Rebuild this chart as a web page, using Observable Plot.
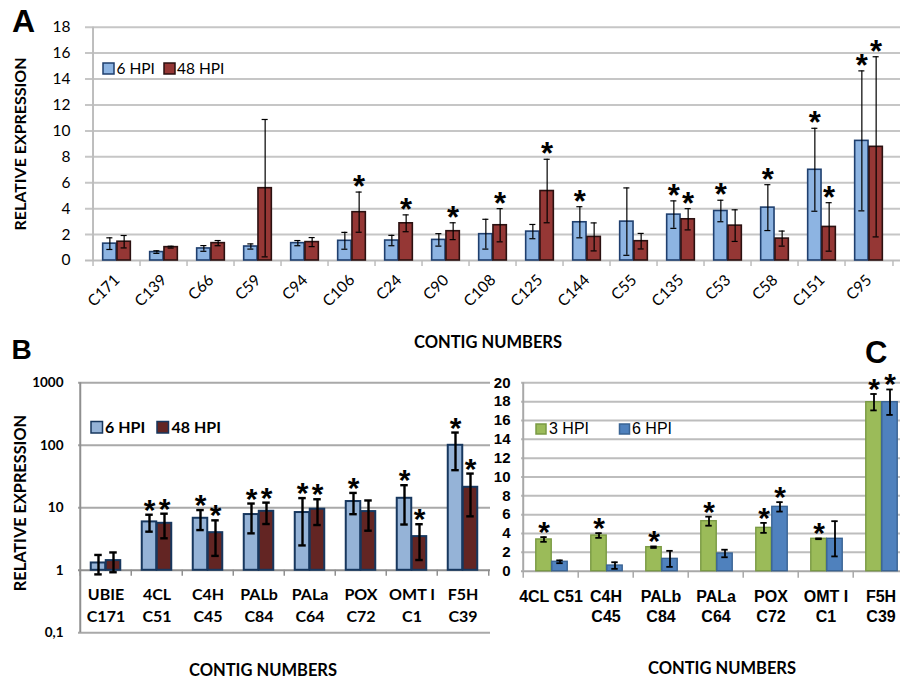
<!DOCTYPE html>
<html><head><meta charset="utf-8">
<script src="https://cdn.jsdelivr.net/npm/d3@7"></script>
<script src="https://cdn.jsdelivr.net/npm/@observablehq/plot@0.6"></script>
<style>
body{margin:0;background:#fff;}
#root{position:relative;width:900px;height:680px;overflow:hidden;background:#fff;}
#root > svg{position:absolute;}
</style></head><body><div id="root"></div>
<script>
// ---------- Panel A data ----------
const catsA = ["C171","C139","C66","C59","C94","C106","C24","C90","C108","C125","C144","C55","C135","C53","C58","C151","C95"];
const a6 =    [1.30,0.65,0.93,1.08,1.34,1.52,1.54,1.59,2.03,2.23,2.95,3.00,3.54,3.82,4.08,7.00,9.23];
const a6err = [0.45,0.10,0.22,0.20,0.20,0.65,0.40,0.48,1.15,0.55,1.20,2.60,1.06,0.83,1.77,3.20,5.40];
const a6sig = [0,0,0,0,0,0,0,0,0,0,1,0,1,1,1,1,1];
const a48 =    [1.45,1.03,1.34,5.58,1.42,3.73,2.87,2.26,2.72,5.36,1.82,1.49,3.18,2.69,1.69,2.59,8.77];
const a48err = [0.48,0.07,0.20,5.30,0.35,1.55,0.65,0.65,1.28,2.45,1.08,0.60,0.82,1.22,0.58,1.87,6.95];
const a48sig = [0,0,0,0,0,1,1,1,1,1,0,0,1,0,0,1,1];
const yTicksA = [0,2,4,6,8,10,12,14,16,18];

// ---------- Panel B data ----------
const catsB = ["UBIE\nC171","4CL\nC51","C4H\nC45","PALb\nC84","PALa\nC64","POX\nC72","OMT I\nC1","F5H\nC39"];
const b6 =    [1.31,5.95,6.8,7.8,8.4,12.6,14.2,100];
const b6err = [0.45,1.8,2.4,3.9,5.9,4.7,8.8,60];
const b6sig = [0,1,1,1,1,1,1,1];
const b48 =    [1.43,5.65,4.0,8.8,9.5,8.7,3.46,21.3];
const b48err = [0.5,2.4,2.3,3.3,4.2,4.4,2.0,14];
const b48sig = [0,1,1,1,1,0,1,1];
const yTicksB = [0.1,1,10,100,1000];
const yTickLabelsB = ["0,1","1","10","100","1000"];

// ---------- Panel C data ----------
const catsC = ["4CL C51","C4H\nC45","PALb\nC84","PALa\nC64","POX\nC72","OMT I\nC1","F5H\nC39"];
const c3 =    [3.37,3.79,2.55,5.31,4.60,3.44,17.94];
const c3err = [0.25,0.25,0.08,0.48,0.53,0.04,0.87];
const c3sig = [1,1,1,1,1,1,1];
const c6 =    [1.00,0.60,1.31,1.88,6.83,3.44,17.94];
const c6err = [0.15,0.35,0.85,0.40,0.50,1.87,1.35];
const c6sig = [0,0,0,0,1,0,1];
const yTicksC = [0,2,4,6,8,10,12,14,16,18,20];

function makePanel(o){
  const n = o.cats.length;
  const step = (o.width - o.marginLeft - o.marginRight) / n;
  const marks = [];
  marks.push(Plot.ruleY(o.grid, {stroke:o.gridColor, strokeWidth:o.gridWidth}));
  marks.push(Plot.ruleY([o.base], {stroke:o.axisColor, strokeWidth:o.gridWidth}));
  marks.push(Plot.ruleX([o.cats[0]], {dx:-step/2, stroke:o.axisColor, strokeWidth:o.axisWidth}));
  marks.push(Plot.ruleX(o.cats, {x:d=>d, y1:()=>o.base, y2:()=>o.base, dx:-step/2, insetBottom:-o.tickLen, stroke:o.axisColor, strokeWidth:1.5}));
  marks.push(Plot.ruleX([o.cats[n-1]], {x:d=>d, y1:()=>o.base, y2:()=>o.base, dx:step/2, insetBottom:-o.tickLen, stroke:o.axisColor, strokeWidth:1.5}));
  const rowsBy = o.series.map(s => o.cats.map((c,i)=>({cat:c, v:s.values[i], e:s.errs[i], sig:s.sig[i]})));
  const offs = o.series.map((s,k)=> (k - (o.series.length-1)/2) * o.barW + (o.shift||0));
  o.series.forEach((s,k)=>{
    const inL = step/2 + offs[k] - o.barW/2;
    const inR = step - inL - o.barW;
    marks.push(Plot.barY(rowsBy[k], {x:"cat", y1:()=>o.base, y2:"v", fill:s.fill, stroke:s.stroke, strokeWidth:o.barStroke, insetLeft:inL, insetRight:inR}));
  });
  o.series.forEach((s,k)=>{
    const rows = rowsBy[k];
    const cL = step/2 + offs[k] - o.capW/2;
    const cR = step - cL - o.capW;
    marks.push(Plot.ruleX(rows, {x:"cat", y1:d=>d.v-d.e, y2:d=>d.v+d.e, dx:offs[k], stroke:"#000", strokeWidth:o.errWidth}));
    marks.push(Plot.tickY(rows, {x:"cat", y:d=>d.v+d.e, insetLeft:cL, insetRight:cR, stroke:"#000", strokeWidth:o.errWidth}));
    marks.push(Plot.tickY(rows, {x:"cat", y:d=>d.v-d.e, insetLeft:cL, insetRight:cR, stroke:"#000", strokeWidth:o.errWidth}));
    marks.push(Plot.text(rows.filter(d=>d.sig), {x:"cat", y:d=>d.v+d.e, text:()=>"*", dx:offs[k], dy:o.starDy, lineAnchor:"bottom", fontSize:o.starSize, fontWeight:"bold", fontFamily:"Liberation Sans", fill:"#000"}));
  });
  if (o.labels) marks.push(Plot.text(o.cats, {x:d=>d, y:()=>o.base, text:d=>d, dy:o.labelDy, lineAnchor:"top", lineHeight:o.lineHeight, fontSize:o.labelSize, fontWeight:"bold", fontFamily:o.labelFont, fill:"#000"}));
  return Plot.plot({
    width:o.width, height:o.height,
    marginLeft:o.marginLeft, marginRight:o.marginRight, marginTop:o.marginTop, marginBottom:o.marginBottom,
    x: Object.assign({type:"band", domain:o.cats, padding:0, label:null}, o.x),
    y: Object.assign({label:null, tickSize:0}, o.y),
    style:{background:"transparent", fontFamily:o.font, fontSize:o.fontSize+"px", fontWeight:o.fontWeight, color:"#000", overflow:"visible"},
    marks
  });
}

const root = document.getElementById("root");

const pA = makePanel({
  cats:catsA, width:900, height:320, marginLeft:85, marginRight:0, marginTop:26.7, marginBottom:60,
  base:0, grid:yTicksA.filter(d=>d>0), gridColor:"#c6c6c6", gridWidth:2, axisColor:"#bdbdbd", axisWidth:2, tickLen:6,
  barW:14.3, barStroke:1.6, capW:7, errWidth:1.2, starSize:31, starDy:5,
  series:[
    {values:a6, errs:a6err, sig:a6sig, fill:"#8db4e2", stroke:"#1f3f6e"},
    {values:a48, errs:a48err, sig:a48sig, fill:"#953735", stroke:"#2b1111"}
  ],
  x:{tickRotate:-45, tickSize:0, tickPadding:17},
  y:{domain:[0,18], ticks:yTicksA, tickPadding:15},
  font:"Lato", fontSize:15.5, fontWeight:"normal"
});
pA.style.left="0px"; pA.style.top="0px";
root.appendChild(pA);

const pB = makePanel({
  cats:catsB, width:490, height:360, marginLeft:78, marginRight:0, marginTop:62.3, marginBottom:47.7,
  base:1, grid:[0.1,10,100,1000], gridColor:"#a9a9a9", gridWidth:2, axisColor:"#8f8f8f", axisWidth:2, tickLen:6,
  barW:15, barStroke:2, capW:8, errWidth:2.4, starSize:30, starDy:5,
  series:[
    {values:b6, errs:b6err, sig:b6sig, fill:"#95b3d7", stroke:"#17375e"},
    {values:b48, errs:b48err, sig:b48sig, fill:"#632523", stroke:"#17375e"}
  ],
  x:{axis:null},
  y:{type:"log", domain:[0.1,1000], ticks:yTicksB, tickFormat:d=>yTickLabelsB[yTicksB.indexOf(d)], tickPadding:15},
  labels:true, labelDy:14, lineHeight:1.375, labelSize:16, labelFont:"Lato",
  font:"Lato", fontSize:13.5, fontWeight:"bold"
});
pB.style.left="0px"; pB.style.top="320px";
root.appendChild(pB);

const pC = makePanel({
  cats:catsC, width:420, height:360, marginLeft:31, marginRight:0, marginTop:62.3, marginBottom:109.3,
  base:0, grid:yTicksC.filter(d=>d>0), gridColor:"#bdbdbd", gridWidth:2, axisColor:"#a8a8a8", axisWidth:2, tickLen:7,
  barW:16, barStroke:1.4, capW:7, errWidth:1.8, starSize:30, starDy:5, shift:1,
  series:[
    {values:c3, errs:c3err, sig:c3sig, fill:"#9bbb59", stroke:"#7a9a44"},
    {values:c6, errs:c6err, sig:c6sig, fill:"#4f81bd", stroke:"#3a6494"}
  ],
  x:{axis:null},
  y:{domain:[0,20], ticks:yTicksC, tickPadding:11},
  labels:true, labelDy:17, lineHeight:1.25, labelSize:16, labelFont:"Liberation Sans",
  font:"Liberation Sans", fontSize:15, fontWeight:"bold"
});
pC.style.left="490px"; pC.style.top="320px";
root.appendChild(pC);

// ---------- overlay text: panel letters, titles, legends ----------
const ov = d3.select(root).append("svg").attr("width",900).attr("height",680)
  .style("left","0px").style("top","0px").style("pointer-events","none");
function txt(s, x, y, o){
  const t = ov.append("text").attr("x",x).attr("y",y).text(s)
    .attr("font-family",o.font||"Lato").attr("font-size",o.size).attr("font-weight",o.weight||"normal")
    .attr("text-anchor",o.anchor||"start").attr("fill","#000");
  if (o.rotate) t.attr("transform",`rotate(${o.rotate},${x},${y})`);
  return t;
}
function sq(x,y,s,fill,stroke){
  ov.append("rect").attr("x",x).attr("y",y).attr("width",s).attr("height",s).attr("fill",fill).attr("stroke",stroke).attr("stroke-width",1.5);
}
const lettersFont = "Liberation Sans";
txt("A", 12, 32, {font:lettersFont, size:32, weight:"bold"});
txt("B", 11.5, 359, {font:lettersFont, size:28, weight:"bold"});
txt("C", 865, 362.7, {font:lettersFont, size:31, weight:"bold"});
txt("CONTIG NUMBERS", 488, 348, {size:16.5, weight:"bold", anchor:"middle"});
txt("CONTIG NUMBERS", 263, 676, {size:16.5, weight:"bold", anchor:"middle"});
txt("CONTIG NUMBERS", 722, 674, {size:16.5, weight:"bold", anchor:"middle"});
txt("RELATIVE EXPRESSION", 26, 144, {size:16, weight:"bold", anchor:"middle", rotate:-90});
txt("RELATIVE EXPRESSION", 25.5, 503, {size:16.3, weight:"bold", anchor:"middle", rotate:-90});
// legend A
sq(103, 63, 11, "#8db4e2", "#1f3f6e"); txt("6 HPI", 116.5, 74, {size:15.5});
sq(164, 63, 11, "#953735", "#2b1111"); txt("48 HPI", 177, 74, {size:15.5});
// legend B
sq(91, 421.5, 11.5, "#95b3d7", "#17375e"); txt("6 HPI", 105, 433, {size:16, weight:"bold"});
sq(157, 421.5, 11.5, "#632523", "#17375e"); txt("48 HPI", 171.5, 433, {size:16, weight:"bold"});
// legend C
sq(536, 424, 10, "#9bbb59", "#7a9a44"); txt("3 HPI", 549, 434, {font:"Liberation Sans", size:16});
sq(619.5, 424, 10, "#4f81bd", "#3a6494"); txt("6 HPI", 632, 434, {font:"Liberation Sans", size:16});
</script></body></html>
